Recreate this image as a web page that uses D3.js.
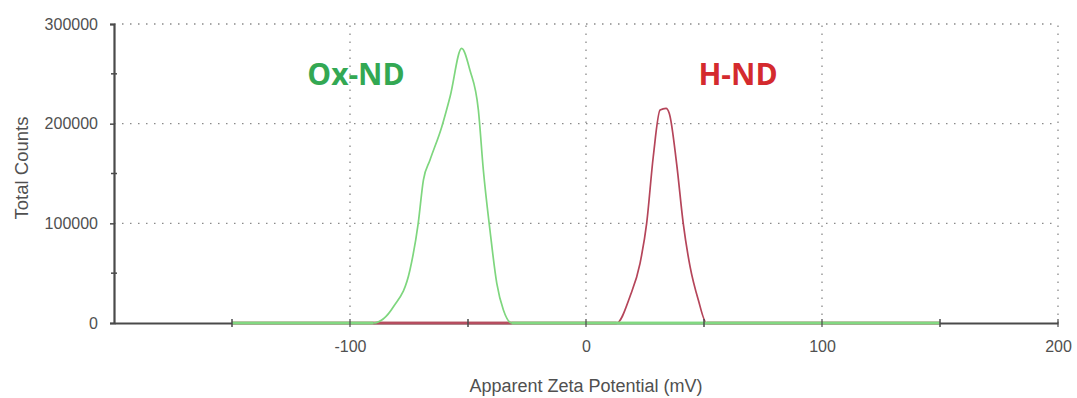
<!DOCTYPE html>
<html><head><meta charset="utf-8">
<script src="https://cdn.jsdelivr.net/npm/d3@7"></script>
<style>body{margin:0;background:#fff}</style>
</head><body>
<svg id="c" width="1077" height="398"></svg>
<script>
const xTicks = [-100, 0, 100, 200];
const xMinor = [-150, -50, 50, 150];
const yTicks = [0, 100000, 200000, 300000];
const yMinor = [50000, 150000, 250000];
const oxX = [-150, -90.1, -81.6, -74.6, -71.1, -68.9, -66.1, -61.1, -57.6, -52.7, -49.2, -45.6, -43.5, -40.7, -37.8, -35.0, -31.5, 150];
const oxY = [0, 0, 16300, 53200, 100000, 143400, 163500, 197000, 227000, 275500, 253800, 213600, 153500, 93300, 39800, 13000, 0, 0];
const hX = [-150, 13.0, 18.6, 22.9, 25.7, 28.5, 31.4, 33.9, 35.3, 38.4, 41.2, 44.1, 47.6, 51.1, 150];
const hY = [0, 0, 26400, 59900, 100000, 166800, 213600, 215300, 210300, 160000, 100000, 56500, 23000, 0, 0];
const labels = ["Ox-ND", "H-ND"];

const svg = d3.select("#c");
const x = d3.scaleLinear().domain([-200, 200]).range([114, 1058]);
const y = d3.scaleLinear().domain([0, 300000]).range([323, 24]);
const grid = "#8a8a8a", axisC = "#4a4a4a", txt = "#505050";
const FONT = "Liberation Sans, Arial, sans-serif";

// grid
svg.append("g").selectAll("line").data(xTicks).join("line")
  .attr("x1", d => x(d)).attr("x2", d => x(d)).attr("y1", y(0)).attr("y2", y(300000))
  .attr("stroke", grid).attr("stroke-width", 1.3).attr("stroke-dasharray", "1.5,6.5");
svg.append("g").selectAll("line").data(yTicks.slice(1)).join("line")
  .attr("x1", x(-200)).attr("x2", x(200)).attr("y1", d => y(d)).attr("y2", d => y(d))
  .attr("stroke", grid).attr("stroke-width", 1.3).attr("stroke-dasharray", "1.5,6.5");

// axes
const yAxis = svg.append("g").attr("transform", `translate(${x(-200)},0)`)
  .call(d3.axisLeft(y).tickValues(yTicks).tickFormat(d => String(d)).tickSize(4).tickPadding(12));
const xAxis = svg.append("g").attr("transform", `translate(0,${y(0)})`)
  .call(d3.axisBottom(x).tickValues(xTicks).tickFormat(d => String(d)).tickSize(0).tickPadding(18));
[yAxis, xAxis].forEach(a => {
  a.select(".domain").attr("stroke", axisC).attr("stroke-width", 2.2);
  a.selectAll(".tick line").attr("stroke", axisC).attr("stroke-width", 1.5);
  a.selectAll("text").attr("fill", txt).style("font-family", FONT).style("font-size", "16px");
});
svg.append("g").selectAll("line").data(yMinor).join("line")
  .attr("x1", x(-200) - 3).attr("x2", x(-200) + 3).attr("y1", d => y(d)).attr("y2", d => y(d))
  .attr("stroke", axisC).attr("stroke-width", 1.5);

// series
const line = d3.line().x(d => x(d[0])).y(d => y(d[1])).curve(d3.curveMonotoneX);
// red baseline (thicker) where red is at zero
svg.append("line").attr("x1", x(hX[0])).attr("x2", x(hX[1])).attr("y1", y(0)).attr("y2", y(0))
  .attr("stroke", "#b86670").attr("stroke-width", 3.2);
svg.append("line").attr("x1", x(hX[hX.length - 2])).attr("x2", x(hX[hX.length - 1])).attr("y1", y(0)).attr("y2", y(0))
  .attr("stroke", "#b86670").attr("stroke-width", 3.2);
svg.append("path").datum(d3.zip(hX, hY)).attr("d", line)
  .attr("fill", "none").attr("stroke", "#b5455a").attr("stroke-width", 1.7).attr("stroke-linejoin", "round");
// green baseline segments (thicker) where green is at zero
svg.append("line").attr("x1", x(oxX[0])).attr("x2", x(oxX[1])).attr("y1", y(0)).attr("y2", y(0))
  .attr("stroke", "#8fdc8f").attr("stroke-width", 3.2);
svg.append("line").attr("x1", x(oxX[oxX.length - 2])).attr("x2", x(oxX[oxX.length - 1])).attr("y1", y(0)).attr("y2", y(0))
  .attr("stroke", "#8fdc8f").attr("stroke-width", 3.2);
svg.append("path").datum(d3.zip(oxX, oxY)).attr("d", line)
  .attr("fill", "none").attr("stroke", "#7ed67e").attr("stroke-width", 1.7).attr("stroke-linejoin", "round");

// x ticks (drawn over baseline)
svg.append("g").selectAll("line").data(xMinor).join("line")
  .attr("x1", d => x(d)).attr("x2", d => x(d)).attr("y1", y(0) - 4).attr("y2", y(0) + 4)
  .attr("stroke", axisC).attr("stroke-width", 1.5);
svg.append("g").selectAll("line").data(xTicks).join("line")
  .attr("x1", d => x(d)).attr("x2", d => x(d)).attr("y1", y(0) - 4).attr("y2", y(0) + 4)
  .attr("stroke", axisC).attr("stroke-width", 1.2);

// axis titles
svg.append("text").attr("x", x(0)).attr("y", 392).attr("text-anchor", "middle")
  .attr("fill", txt).style("font-family", FONT).style("font-size", "18px")
  .text("Apparent Zeta Potential (mV)");
svg.append("text").attr("transform", "translate(28,168) rotate(-90)").attr("text-anchor", "middle")
  .attr("fill", txt).style("font-family", FONT).style("font-size", "18.5px")
  .text("Total Counts");

// series labels
svg.append("text").attr("x", 356).attr("y", 85).attr("text-anchor", "middle")
  .attr("fill", "#33a853").style("font-family", "Open Sans, Liberation Sans, sans-serif").style("font-weight", "bold").style("font-size", "30px")
  .text(labels[0]);
svg.append("text").attr("x", 738).attr("y", 85).attr("text-anchor", "middle")
  .attr("fill", "#d42a2e").style("font-family", "Open Sans, Liberation Sans, sans-serif").style("font-weight", "bold").style("font-size", "30px")
  .text(labels[1]);
</script>
</body></html>
